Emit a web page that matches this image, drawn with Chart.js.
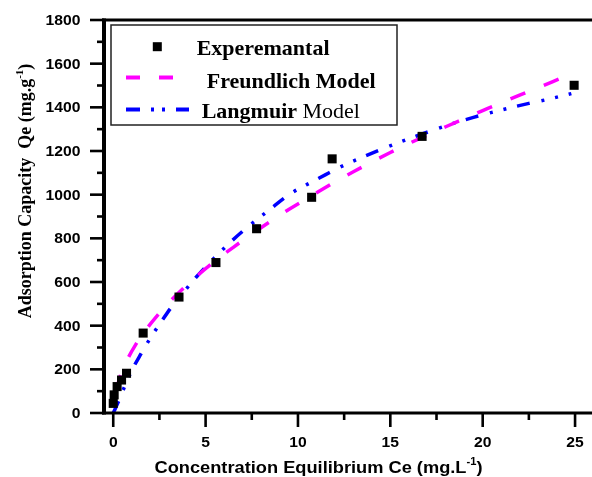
<!DOCTYPE html>
<html><head><meta charset="utf-8">
<script src="https://cdn.jsdelivr.net/npm/chart.js@4/dist/chart.umd.min.js"></script>
<style>html,body{margin:0;padding:0;overflow:hidden;background:#fff;width:592px;height:477px}canvas{display:block}</style>
</head><body>
<canvas id="c" width="620" height="477"></canvas>
<script>
// Experimental points
const expX = [0.0, 0.05, 0.21, 0.45, 0.72, 1.62, 3.56, 5.56, 7.76, 10.74, 11.85, 16.72, 24.95];
const expY = [44, 83, 121, 151, 182, 366, 531, 689, 844, 988, 1164, 1267, 1501];
// Freundlich model curve
const freX = [0.15, 0.4, 0.8, 1.2, 1.62, 2.5, 3.5, 4.5, 5.56, 6.5, 7.5, 8.5, 9.5, 10.74, 12, 13, 14, 15, 16, 17, 18, 19, 20, 21, 22, 23, 24.2];
const freY = [103, 174, 251, 311, 364, 458, 547, 625, 699, 759, 819, 877, 932, 995, 1058, 1105, 1150, 1193, 1234, 1273, 1311, 1348, 1385, 1420, 1456, 1490, 1532];
// Langmuir model curve
const lanX = [0, 0.27, 0.6, 1.0, 1.5, 2.0, 2.6, 3.1, 3.6, 4.5, 5.0, 5.6, 6.3, 7.0, 7.6, 8.5, 9.6, 10.5, 11.5, 12.5, 13.5, 14.5, 15.5, 16.5, 17.5, 18.5, 19.5, 20.5, 21.5, 22.5, 23.5, 24.8];
const lanY = [0, 50, 118, 194, 271, 342, 418, 479, 532, 623, 669, 721, 779, 832, 874, 934, 1005, 1047, 1092, 1135, 1172, 1207, 1240, 1271, 1301, 1329, 1354, 1377, 1398, 1418, 1436, 1463];

const xTickLabels = ['0', '5', '10', '15', '20', '25'];
const yTickLabels = ['0', '200', '400', '600', '800', '1000', '1200', '1400', '1600', '1800'];
const xTitleMain = 'Concentration Equilibrium Ce (mg.L';
const xTitleSup = '-1';
const xTitleEnd = ')';
const yTitleMain = 'Adsorption Capacity  Qe (mg.g';
const yTitleSup = '-1';
const yTitleEnd = ')';
const seriesNames = ['Experemantal', 'Freundlich Model', 'Langmuir'];
const langmuirSuffix = ' Model';

const zip = (xs, ys) => xs.map((v, i) => ({x: v, y: ys[i]}));

function sText(ctx, txt, x, y, sx, align) {
  const w = ctx.measureText(txt).width * sx;
  let x0 = align === 'right' ? x - w : (align === 'center' ? x - w / 2 : x);
  ctx.save(); ctx.translate(x0, y); ctx.scale(sx, 1); ctx.textAlign = 'left'; ctx.fillText(txt, 0, 0); ctx.restore();
  return w;
}
function seg(ctx, x1, y1, x2, y2) { ctx.beginPath(); ctx.moveTo(x1, y1); ctx.lineTo(x2, y2); ctx.stroke(); }

const decor = {
  id: 'decor',
  afterDraw(chart) {
    const {ctx, chartArea: a, scales: {x, y}} = chart;
    ctx.save();
    ctx.strokeStyle = '#000'; ctx.fillStyle = '#000'; ctx.lineCap = 'butt';
    // frame
    ctx.lineWidth = 3;
    seg(ctx, a.left - 2, a.top, chart.width, a.top);
    seg(ctx, a.left - 2, a.bottom, chart.width, a.bottom);
    ctx.lineWidth = 4;
    seg(ctx, a.left, a.top - 1.5, a.left, a.bottom + 1.5);
    // y ticks
    const yv = yTickLabels.map(Number);
    ctx.lineWidth = 2.6;
    ctx.font = 'bold 14px "Liberation Sans", Arial, sans-serif';
    ctx.textBaseline = 'alphabetic';
    yv.forEach((v, i) => {
      const py = y.getPixelForValue(v);
      seg(ctx, a.left - 14, py, a.left, py);
      if (i < yv.length - 1) {
        const pm = y.getPixelForValue((v + yv[i + 1]) / 2);
        seg(ctx, a.left - 7, pm, a.left, pm);
      }
      sText(ctx, yTickLabels[i], 80.5, py + 5, 1.12, 'right');
    });
    // x ticks
    const xv = xTickLabels.map(Number);
    xv.forEach((v, i) => {
      const px = x.getPixelForValue(v);
      seg(ctx, px, a.bottom, px, a.bottom + 14);
      const pm = x.getPixelForValue(v + 2.5);
      if (pm < chart.width) seg(ctx, pm, a.bottom, pm, a.bottom + 7);
      sText(ctx, xTickLabels[i], px, a.bottom + 34, 1.12, 'center');
    });
    // x title
    const fMain = 'bold 16.3px "Liberation Sans", Arial, sans-serif';
    const fSup = 'bold 10px "Liberation Sans", Arial, sans-serif';
    ctx.font = fMain; const w1 = ctx.measureText(xTitleMain).width * 1.12;
    const w3 = ctx.measureText(xTitleEnd).width * 1.12;
    ctx.font = fSup; const w2 = ctx.measureText(xTitleSup).width * 1.12;
    let tx = 318.5 - (w1 + w2 + w3) / 2; const tb = 473.3;
    ctx.font = fMain; sText(ctx, xTitleMain, tx, tb, 1.12, 'left'); tx += w1;
    ctx.font = fSup; sText(ctx, xTitleSup, tx, tb - 8, 1.12, 'left'); tx += w2;
    ctx.font = fMain; sText(ctx, xTitleEnd, tx, tb, 1.12, 'left');
    // y title
    ctx.save();
    ctx.translate(30.5, 191); ctx.rotate(-Math.PI / 2);
    const gMain = 'bold 18px "Liberation Serif", "Times New Roman", serif';
    const gSup = 'bold 11px "Liberation Serif", "Times New Roman", serif';
    ctx.font = gMain; const v1 = ctx.measureText(yTitleMain).width, v3 = ctx.measureText(yTitleEnd).width;
    ctx.font = gSup; const v2 = ctx.measureText(yTitleSup).width;
    let ty = -(v1 + v2 + v3) / 2;
    ctx.textAlign = 'left';
    ctx.font = gMain; ctx.fillText(yTitleMain, ty, 0); ty += v1;
    ctx.font = gSup; ctx.fillText(yTitleSup, ty, -8); ty += v2;
    ctx.font = gMain; ctx.fillText(yTitleEnd, ty, 0);
    ctx.restore();
    // legend
    ctx.lineWidth = 1.5; ctx.strokeStyle = '#222';
    ctx.strokeRect(111, 25, 286, 100);
    ctx.fillStyle = '#000';
    ctx.fillRect(157.3 - 4.5, 46.7 - 4.5, 9, 9);
    ctx.lineWidth = 4; ctx.strokeStyle = '#ff00ff';
    seg(ctx, 126, 77.5, 140, 77.5); seg(ctx, 159, 77.5, 173, 77.5);
    ctx.strokeStyle = '#0000ff';
    seg(ctx, 126, 109.5, 140, 109.5); seg(ctx, 151, 109.5, 154, 109.5);
    seg(ctx, 162, 109.5, 165, 109.5); seg(ctx, 176, 109.5, 189, 109.5);
    ctx.fillStyle = '#000'; ctx.textAlign = 'left'; ctx.textBaseline = 'alphabetic';
    ctx.font = 'bold 22px "Liberation Serif", "Times New Roman", serif';
    ctx.fillText(seriesNames[0], 196.7, 55);
    ctx.fillText(seriesNames[1], 206.7, 88.3);
    ctx.fillText(seriesNames[2], 201.7, 118.3);
    const lw = ctx.measureText(seriesNames[2]).width;
    ctx.font = '22px "Liberation Serif", "Times New Roman", serif';
    ctx.fillText(langmuirSuffix, 201.7 + lw, 118.3);
    ctx.restore();
  }
};

new Chart(document.getElementById('c'), {
  type: 'scatter',
  data: {
    datasets: [
      {label: seriesNames[0], data: zip(expX, expY), pointStyle: 'rect', pointRadius: 6.4,
       backgroundColor: '#000', borderColor: '#000', borderWidth: 0, showLine: false, order: 0},
      {label: seriesNames[1], data: zip(freX, freY), showLine: true, pointRadius: 0,
       borderColor: '#ff00ff', borderWidth: 3.5, borderDash: [16, 20], cubicInterpolationMode: 'monotone', order: 1},
      {label: seriesNames[2] + langmuirSuffix, data: zip(lanX, lanY), showLine: true, pointRadius: 0,
       borderColor: '#0000ff', borderWidth: 3.5, borderDash: [13, 12, 3, 11, 3, 11], cubicInterpolationMode: 'monotone', order: 2}
    ]
  },
  options: {
    responsive: false, animation: false, devicePixelRatio: 1,
    layout: {padding: {left: 104, top: 20, right: 8, bottom: 64}},
    scales: {
      x: {type: 'linear', min: -0.5, max: 27, display: false},
      y: {type: 'linear', min: 0, max: 1800, display: false}
    },
    plugins: {legend: {display: false}, tooltip: {enabled: false}}
  },
  plugins: [decor]
});
</script>
</body></html>
